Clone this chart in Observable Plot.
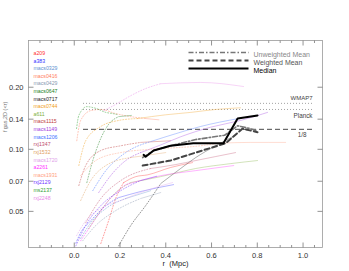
<!DOCTYPE html>
<html><head><meta charset="utf-8">
<script src="https://cdn.jsdelivr.net/npm/d3@7"></script>
<script src="https://cdn.jsdelivr.net/npm/@observablehq/plot@0.6"></script>
<style>body{margin:0;background:#fff;} svg{font-family:"Liberation Sans",Arial,sans-serif;}</style>
</head><body><div id="chart"></div>
<script>
// ---- data ----
const clusterNames = ["a209","a383","macs0329","macs0416","macs0429","macs0647","macs0717","macs0744","a611","macs1115","macs1149","macs1206","rxj1347","rxj1532","macs1720","a2261","macs1931","rxj2129","ms2137","rxj2248"];
const clusterColors = ["#ff3030","#3030ff","#6090d0","#ff8060","#8898b0","#208020","#202020","#f0a020","#80b040","#c04040","#a040e0","#4070ff","#c05070","#e0a060","#e0a0e8","#ff30ff","#ffa080","#7030ff","#30a030","#e888e8"];
// profiles: [r (Mpc), f_gas(<r)]
const p_a209     = [[0.116,0.0349],[0.15,0.045],[0.181,0.0577],[0.216,0.069],[0.269,0.0737],[0.321,0.0752],[0.421,0.0816],[0.517,0.0862]];
const p_a383     = [[0.007,0.0351],[0.028,0.0394],[0.072,0.045],[0.138,0.0533],[0.194,0.0583],[0.29,0.0624],[0.434,0.0674]];
const p_macs0329 = [[0.028,0.0369],[0.072,0.044],[0.138,0.0516],[0.225,0.0577],[0.334,0.063]];
const p_macs0416 = [[0.011,0.110],[0.028,0.138],[0.072,0.154],[0.116,0.156],[0.181,0.149],[0.247,0.144],[0.312,0.141],[0.37,0.139]];
const p_macs0429 = [[0.037,0.036],[0.094,0.0427],[0.181,0.0504],[0.29,0.0577],[0.378,0.0617]];
const p_macs0647 = [[0.055,0.0689],[0.081,0.0882],[0.116,0.113],[0.15,0.132],[0.194,0.144],[0.25,0.146]];
const p_macs0717 = [[0.194,0.034],[0.247,0.0427],[0.312,0.0533],[0.378,0.0682],[0.465,0.0807],[0.531,0.0912],[0.618,0.104],[0.705,0.117]];
const p_macs0744 = [[0.02,0.0834],[0.05,0.110],[0.116,0.129],[0.194,0.138],[0.277,0.141],[0.40,0.147],[0.509,0.151],[0.618,0.156],[0.727,0.159]];
const p_a611     = [[0.063,0.0412],[0.116,0.0504],[0.181,0.0617],[0.247,0.069],[0.378,0.0737],[0.531,0.0807],[0.683,0.0852],[0.801,0.0882]];
const p_macs1115 = [[0.02,0.0667],[0.05,0.0834],[0.116,0.0986],[0.203,0.104],[0.29,0.108],[0.421,0.110]];
const p_macs1149 = [[0.107,0.0617],[0.159,0.0745],[0.225,0.0882],[0.29,0.0964],[0.378,0.105],[0.465,0.115],[0.596,0.128],[0.727,0.138],[0.845,0.151]];
const p_macs1206 = [[0.081,0.063],[0.138,0.0788],[0.225,0.0964],[0.334,0.109],[0.443,0.119],[0.552,0.129],[0.718,0.141]];
const p_rxj1347  = [[0.05,0.044],[0.116,0.0577],[0.203,0.0705],[0.334,0.0807],[0.443,0.0843],[0.531,0.0882],[0.705,0.0964]];
const p_rxj1532  = [[0.028,0.0564],[0.072,0.0705],[0.138,0.0834],[0.247,0.0912],[0.40,0.0964]];
const p_macs1720 = [[0.01,0.0381],[0.05,0.045],[0.116,0.0516],[0.203,0.0564],[0.312,0.063],[0.43,0.069]];
const p_a2261    = [[0.028,0.036],[0.081,0.044],[0.15,0.0564],[0.225,0.0674],[0.378,0.0745],[0.531,0.0788],[0.697,0.0834]];
const p_macs1931 = [[0.028,0.0745],[0.094,0.0882],[0.203,0.0964],[0.378,0.1007],[0.552,0.104],[0.631,0.107],[0.771,0.108],[0.924,0.108]];
const p_rxj2129  = [[0.007,0.034],[0.05,0.0427],[0.116,0.0533],[0.203,0.063],[0.29,0.0705],[0.36,0.074]];
const p_ms2137   = [[0.01,0.126],[0.02,0.146],[0.055,0.161],[0.094,0.158],[0.138,0.151],[0.168,0.149],[0.194,0.147]];
const p_rxj2248  = [[0.129,0.154],[0.181,0.165],[0.247,0.182],[0.312,0.197],[0.378,0.208],[0.552,0.211],[0.74,0.2016]];
// radius where each profile's outer (solid) part begins
const solidFrom = [0.216,0.194,0.225,0.312,0.29,0.194,0.378,0.277,0.247,0.29,0.29,0.334,0.334,0.247,0.203,0.225,0.631,0.29,0.194,0.378];
const profiles = [p_a209,p_a383,p_macs0329,p_macs0416,p_macs0429,p_macs0647,p_macs0717,p_macs0744,p_a611,p_macs1115,p_macs1149,p_macs1206,p_rxj1347,p_rxj1532,p_macs1720,p_a2261,p_macs1931,p_rxj2129,p_ms2137,p_rxj2248];

const medianR = [0.303,0.312,0.347,0.421,0.52,0.652,0.714,0.801];
const medianF = [0.094,0.092,0.0986,0.104,0.107,0.107,0.141,0.146];
const wMeanR  = [0.299,0.421,0.531,0.662,0.736,0.801];
const wMeanF  = [0.0834,0.0882,0.0964,0.107,0.126,0.121];
const uMeanR  = [0.299,0.347,0.421,0.531,0.657,0.714,0.745,0.801];
const uMeanF  = [0.0912,0.0986,0.104,0.1115,0.117,0.130,0.128,0.123];

const refValues = [0.167, 0.156, 0.125];
const refLabels = ["WMAP7", "Planck", "1/8"];
const legendLabels = ["Unweighted Mean", "Weighted Mean", "Median"];

const xTickLabels = [0.0, 0.2, 0.4, 0.6, 0.8, 1.0];
const xMinor = [-0.15,-0.1,-0.05,0.05,0.1,0.15,0.25,0.3,0.35,0.45,0.5,0.55,0.65,0.7,0.75,0.85,0.9,0.95,1.05];
const yTickLabels = [0.05, 0.07, 0.10, 0.14, 0.20];

// ---- marks ----
const marks = [];
const tickStyle = {stroke:"#777", strokeWidth:0.8, r:0, strokeLinecap:"butt", anchor:"start"};
marks.push(Plot.frame({stroke:"#999", strokeWidth:0.8}));
marks.push(Plot.vector(xTickLabels, {...tickStyle, x:d=>d, frameAnchor:"bottom", length:5, rotate:0}));
marks.push(Plot.vector(xMinor, {...tickStyle, x:d=>d, frameAnchor:"bottom", length:2.5, rotate:0}));
marks.push(Plot.vector(xTickLabels, {...tickStyle, x:d=>d, frameAnchor:"top", length:5, rotate:180}));
marks.push(Plot.vector(xMinor, {...tickStyle, x:d=>d, frameAnchor:"top", length:2.5, rotate:180}));
marks.push(Plot.vector(yTickLabels, {...tickStyle, y:d=>d, frameAnchor:"left", length:5, rotate:90}));
marks.push(Plot.vector(yTickLabels, {...tickStyle, y:d=>d, frameAnchor:"right", length:5, rotate:-90}));
marks.push(Plot.axisX({ticks:xTickLabels, tickSize:0, tickPadding:5, tickFormat:".1f", label:null, fontSize:7.5, fill:"#333"}));
marks.push(Plot.axisY({ticks:yTickLabels, tickSize:0, tickPadding:5, tickFormat:".2f", label:null, fontSize:7.5, fill:"#333"}));

// reference lines
marks.push(Plot.ruleY([refValues[0]], {stroke:"#999", strokeWidth:0.9, strokeDasharray:"1,2", insetLeft:55, insetRight:9}));
marks.push(Plot.ruleY([refValues[1]], {stroke:"#999", strokeWidth:0.9, strokeDasharray:"1,2", insetLeft:55, insetRight:9}));
marks.push(Plot.ruleY([refValues[2]], {stroke:"#333", strokeWidth:0.9, strokeDasharray:"5,3", insetLeft:55, insetRight:9}));
marks.push(Plot.text([0], {y:()=>refValues[0], text:()=>refLabels[0], frameAnchor:"right", dx:-10, dy:-5, textAnchor:"end", fontSize:6, fill:"#444"}));
marks.push(Plot.text([0], {y:()=>refValues[1], text:()=>refLabels[1], frameAnchor:"right", dx:-10, dy:6, textAnchor:"end", fontSize:6.3, fill:"#444"}));
marks.push(Plot.text([0], {y:()=>refValues[2], text:()=>refLabels[2], frameAnchor:"right", dx:-16, dy:6, textAnchor:"end", fontSize:6.3, fill:"#444"}));

// cluster profiles
profiles.forEach((p, i) => {
  const inner = p.filter(d => d[0] <= solidFrom[i]);
  const outer = p.filter(d => d[0] >= solidFrom[i]);
  marks.push(Plot.line(inner, {x:d=>d[0], y:d=>d[1], stroke:clusterColors[i], strokeWidth:0.8, strokeDasharray:"1,1.8", strokeOpacity:0.6, curve:"monotone-x", clip:true}));
  if (outer.length > 1) marks.push(Plot.line(outer, {x:d=>d[0], y:d=>d[1], stroke:clusterColors[i], strokeWidth:0.6, strokeOpacity:0.6, curve:"monotone-x", clip:true}));
});

// means & median
marks.push(Plot.line(d3.zip(uMeanR, uMeanF), {x:d=>d[0], y:d=>d[1], stroke:"#777", strokeWidth:1.6, strokeDasharray:"5,2,1.5,2"}));
marks.push(Plot.line(d3.zip(wMeanR, wMeanF), {x:d=>d[0], y:d=>d[1], stroke:"#444", strokeWidth:2, strokeDasharray:"5,3"}));
marks.push(Plot.line(d3.zip(medianR, medianF), {x:d=>d[0], y:d=>d[1], stroke:"#000", strokeWidth:2}));

// legend (top right)
const legStroke = [["#777","5,2,1.5,2",1.6],["#444","5,3",2],["#000",null,2]];
const legFill = ["#888","#555","#000"];
legendLabels.forEach((lab, i) => {
  marks.push(Plot.vector([lab], {frameAnchor:"top-right", dx:-134, dy:12 + i*8, rotate:90, length:60, anchor:"start", r:0, strokeLinecap:"butt", stroke:legStroke[i][0], strokeDasharray:legStroke[i][1], strokeWidth:legStroke[i][2]}));
  marks.push(Plot.text([lab], {frameAnchor:"top-right", dx:-69, dy:12 + i*8, textAnchor:"start", fontSize:7, fill:legFill[i]}));
});
// legend (cluster names)
clusterNames.forEach((n, i) => {
  marks.push(Plot.text([n], {frameAnchor:"top-left", dx:5, dy:10.7 + i*7.62, textAnchor:"start", fontSize:5.2, fill:clusterColors[i]}));
});

// axis titles
marks.push(Plot.text(["r\u00a0 (Mpc)"], {frameAnchor:"bottom", dy:18, fontSize:7.5, fill:"#222"}));
marks.push(Plot.text(["f\u2009gas,2D (<r)"], {frameAnchor:"left", dx:-23, dy:-12, rotate:-90, fontSize:5.5, fill:"#777"}));

const chart = Plot.plot({
  width:349, height:271,
  marginLeft:28, marginRight:27, marginTop:40, marginBottom:24,
  style:{fontFamily:"'Liberation Sans', Arial, sans-serif", background:"#fff", color:"#333"},
  x:{domain:[-0.2, 1.085]},
  y:{type:"log", domain:[0.0334, 0.337]},
  marks
});
document.getElementById("chart").appendChild(chart);
</script>
</body></html>
